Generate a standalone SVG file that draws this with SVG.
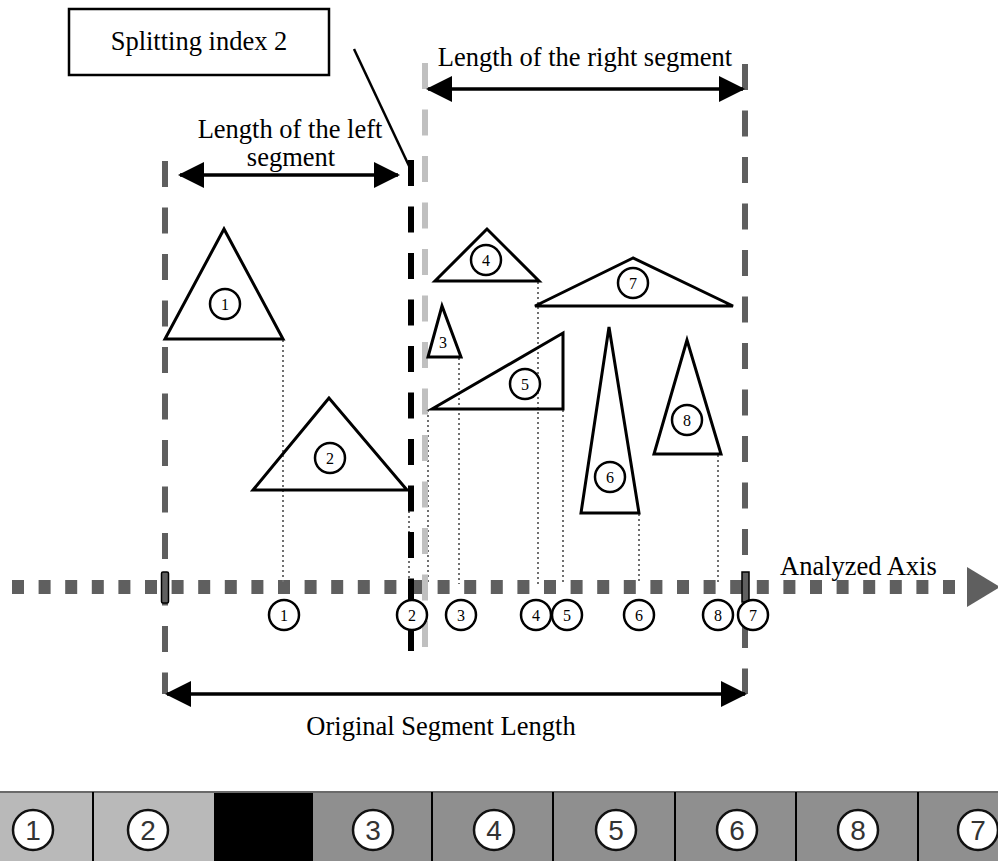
<svg xmlns="http://www.w3.org/2000/svg" width="998" height="861" viewBox="0 0 998 861">
<style>
.serif{font-family:"Liberation Serif","Times New Roman",serif;fill:#000}
.lbl{font-size:26.5px}
.num{font-size:16px;text-anchor:middle}
.tri{fill:none;stroke:#000;stroke-width:3;stroke-linejoin:miter}
.cir{fill:#fff;stroke:#000;stroke-width:2.5}
.dot{stroke:#707070;stroke-width:2;stroke-dasharray:2 3;fill:none}
.vd{fill:none;stroke-width:6;stroke-dasharray:26 20.5}
.arr{stroke:#000;stroke-width:3.5;fill:none;marker-start:url(#ah);marker-end:url(#ah)}
.cell{stroke:none}
.bnum{font-family:"Liberation Sans",Arial,sans-serif;font-size:28px;fill:#333;text-anchor:middle}
.bcir{fill:#fff;stroke:#111;stroke-width:2.5}
</style>
<defs>
<marker id="ah" markerUnits="userSpaceOnUse" markerWidth="26" markerHeight="28" refX="24" refY="13" orient="auto-start-reverse" viewBox="0 0 26 26">
<path d="M0,0 L26,13 L0,26 Z" fill="#000"/>
</marker>
</defs>
<rect width="998" height="861" fill="#fff"/>

<g id="bar">
<rect class="cell" x="0" y="792" width="214" height="69" fill="#b9b9b9"/>
<rect class="cell" x="214" y="792" width="99" height="69" fill="#000"/>
<rect class="cell" x="313" y="792" width="685" height="69" fill="#8f8f8f"/>
<line x1="0" y1="792" x2="998" y2="792" stroke="#6a6a6a" stroke-width="2"/>
<g stroke="#000" stroke-width="2">
<line x1="93" y1="792" x2="93" y2="861"/>
<line x1="432" y1="792" x2="432" y2="861"/>
<line x1="553" y1="792" x2="553" y2="861"/>
<line x1="675" y1="792" x2="675" y2="861"/>
<line x1="796" y1="792" x2="796" y2="861"/>
<line x1="918" y1="792" x2="918" y2="861"/>
</g>
<g id="bar-1"><circle class="bcir" cx="33" cy="830" r="20"/><text class="bnum" x="33" y="840">1</text></g>
<g id="bar-2"><circle class="bcir" cx="148" cy="830" r="20"/><text class="bnum" x="148" y="840">2</text></g>
<g id="bar-3"><circle class="bcir" cx="373" cy="830" r="20"/><text class="bnum" x="373" y="840">3</text></g>
<g id="bar-4"><circle class="bcir" cx="494" cy="830" r="20"/><text class="bnum" x="494" y="840">4</text></g>
<g id="bar-5"><circle class="bcir" cx="616" cy="830" r="20"/><text class="bnum" x="616" y="840">5</text></g>
<g id="bar-6"><circle class="bcir" cx="737" cy="830" r="20"/><text class="bnum" x="737" y="840">6</text></g>
<g id="bar-8"><circle class="bcir" cx="858" cy="830" r="20"/><text class="bnum" x="858" y="840">8</text></g>
<g id="bar-7"><circle class="bcir" cx="978" cy="830" r="20"/><text class="bnum" x="978" y="840">7</text></g>
</g>

<g id="axis">
<line x1="12" y1="587" x2="967" y2="587" stroke="#5f5f5f" stroke-width="14" stroke-dasharray="12 14.6"/>
<polygon points="967,567 1000,587 967,607" fill="#5f5f5f"/>
<text class="serif lbl" x="780" y="575">Analyzed Axis</text>
</g>

<g id="connectors">
<line class="dot" x1="283" y1="340" x2="283" y2="584"/>
<line class="dot" x1="409" y1="491" x2="409" y2="584"/>
<line class="dot" x1="428" y1="410" x2="428" y2="584"/>
<line class="dot" x1="459" y1="358" x2="459" y2="584"/>
<line class="dot" x1="538" y1="282" x2="538" y2="584"/>
<line class="dot" x1="563" y1="410" x2="563" y2="584"/>
<line class="dot" x1="639" y1="514" x2="639" y2="584"/>
<line class="dot" x1="718" y1="455" x2="718" y2="584"/>
<line class="vd" x1="165" y1="161" x2="165" y2="694" stroke="#5f5f5f"/>
<line class="vd" x1="745" y1="64" x2="745" y2="694" stroke="#5f5f5f"/>
<line class="vd" x1="425" y1="63" x2="425" y2="647" stroke="#c0c0c0"/>
<line class="vd" x1="411" y1="160" x2="411" y2="651" stroke="#000"/>
<line x1="354" y1="49" x2="410" y2="168" stroke="#000" stroke-width="2.5"/>
<line class="arr" x1="180" y1="175" x2="398" y2="175"/>
<line class="arr" x1="428" y1="89" x2="743" y2="89"/>
<line class="arr" x1="167" y1="694" x2="745" y2="694"/>
<rect x="161.5" y="572" width="7" height="31" rx="1.5" fill="#5f5f5f" stroke="#000" stroke-width="1.5"/>
<rect x="742" y="572" width="7" height="30" fill="#5f5f5f" stroke="#000" stroke-width="1.5"/>
</g>

<g id="split-box">
<rect x="69" y="9" width="260" height="66" fill="#fff" stroke="#000" stroke-width="2.5"/>
<text class="serif lbl" x="199" y="50" text-anchor="middle">Splitting index 2</text>
</g>
<g id="labels">
<text class="serif lbl" x="290" y="138" text-anchor="middle">Length of the left</text>
<text class="serif lbl" x="291" y="166" text-anchor="middle">segment</text>
<text class="serif lbl" x="585" y="66" text-anchor="middle">Length of the right segment</text>
<text class="serif lbl" x="441" y="735" text-anchor="middle">Original Segment Length</text>
</g>

<g id="tri-1"><polygon class="tri" points="224,229 165,339 283,339"/><circle class="cir" cx="225" cy="304" r="15"/><text class="serif num" x="225" y="310">1</text></g>
<g id="tri-2"><polygon class="tri" points="329,398 253,490 407,490"/><circle class="cir" cx="330" cy="458" r="15"/><text class="serif num" x="330" y="464">2</text></g>
<g id="tri-3"><polygon class="tri" points="442,306 428,357 461,357"/><text class="serif num" x="443" y="348">3</text></g>
<g id="tri-4"><polygon class="tri" points="487,229 435,281 539,281"/><circle class="cir" cx="486" cy="260" r="15"/><text class="serif num" x="486" y="266">4</text></g>
<g id="tri-5"><polygon class="tri" points="432,409 563,333 563,409"/><circle class="cir" cx="525" cy="384" r="15"/><text class="serif num" x="525" y="390">5</text></g>
<g id="tri-6"><polygon class="tri" points="609,327 581,513 639,513"/><circle class="cir" cx="610" cy="477" r="15"/><text class="serif num" x="610" y="483">6</text></g>
<g id="tri-7"><polygon class="tri" points="633,258 535,306 733,306"/><circle class="cir" cx="633" cy="283" r="15"/><text class="serif num" x="633" y="289">7</text></g>
<g id="tri-8"><polygon class="tri" points="687,340 654,454 721,454"/><circle class="cir" cx="687" cy="420" r="15"/><text class="serif num" x="687" y="426">8</text></g>

<g id="axis-marks">
<g id="m1"><circle class="cir" cx="284" cy="615" r="15"/><text class="serif num" x="284" y="621">1</text></g>
<g id="m2"><circle class="cir" cx="412" cy="615" r="15"/><text class="serif num" x="412" y="621">2</text></g>
<g id="m3"><circle class="cir" cx="461" cy="615" r="15"/><text class="serif num" x="461" y="621">3</text></g>
<g id="m4"><circle class="cir" cx="536" cy="615" r="15"/><text class="serif num" x="536" y="621">4</text></g>
<g id="m5"><circle class="cir" cx="567" cy="615" r="15"/><text class="serif num" x="567" y="621">5</text></g>
<g id="m6"><circle class="cir" cx="639" cy="615" r="15"/><text class="serif num" x="639" y="621">6</text></g>
<g id="m8"><circle class="cir" cx="718" cy="615" r="15"/><text class="serif num" x="718" y="621">8</text></g>
<g id="m7"><circle class="cir" cx="753" cy="615" r="15"/><text class="serif num" x="753" y="621">7</text></g>
</g>
</svg>
